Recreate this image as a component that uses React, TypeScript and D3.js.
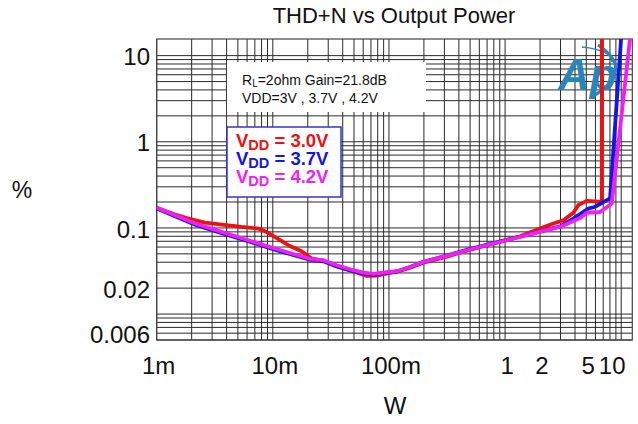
import React from 'react';
import * as d3 from 'd3';

// tick labels
const xTickValues = [0.001, 0.01, 0.1, 1, 2, 5, 10];
const xTickLabels = ['1m', '10m', '100m', '1', '2', '5', '10'];
const yTickValues = [10, 1, 0.1, 0.02, 0.006];
const yTickLabels = ['10', '1', '0.1', '0.02', '0.006'];

// VDD = 3.0V
const redW = [0.001, 0.00144, 0.00187, 0.0026, 0.00363, 0.0054, 0.0075, 0.00857, 0.0104, 0.0136, 0.0177, 0.0216, 0.0272, 0.0355, 0.0462, 0.0644, 0.0785, 0.0895, 0.117, 0.152, 0.198, 0.294, 0.468, 0.793, 1.346, 2.0, 2.61, 3.18, 3.87, 4.28, 5.06, 6.81, 6.81];
const redThd = [0.171, 0.143, 0.1286, 0.1155, 0.1095, 0.1027, 0.0984, 0.0916, 0.0786, 0.063, 0.0536, 0.0441, 0.0418, 0.0362, 0.0322, 0.0277, 0.028, 0.029, 0.031, 0.0345, 0.0395, 0.0452, 0.0545, 0.066, 0.08, 0.0984, 0.1125, 0.1228, 0.15, 0.185, 0.206, 0.2005, 20];

// VDD = 3.7V
const blueW = [0.001, 0.00144, 0.00214, 0.00363, 0.00615, 0.0104, 0.0155, 0.0216, 0.0272, 0.0355, 0.0462, 0.0602, 0.0734, 0.0895, 0.117, 0.152, 0.198, 0.294, 0.468, 0.793, 1.346, 2.14, 2.98, 3.87, 5.22, 5.9, 8.02, 10.1];
const blueThd = [0.168, 0.137, 0.109, 0.087, 0.07, 0.056, 0.0478, 0.0422, 0.041, 0.0358, 0.0322, 0.0295, 0.0285, 0.0298, 0.0312, 0.0352, 0.0405, 0.0465, 0.0558, 0.0665, 0.079, 0.093, 0.104, 0.1286, 0.168, 0.175, 0.22, 20];

// VDD = 4.2V
const magW = [0.001, 0.00144, 0.00214, 0.00363, 0.00615, 0.0104, 0.0155, 0.0216, 0.0272, 0.0355, 0.0462, 0.0602, 0.0734, 0.0895, 0.117, 0.152, 0.198, 0.294, 0.468, 0.793, 1.346, 2.14, 2.98, 3.87, 4.43, 5.06, 6.58, 8.3, 11.9];
const magThd = [0.171, 0.1405, 0.1125, 0.0899, 0.072, 0.0576, 0.0491, 0.0433, 0.0422, 0.0369, 0.0331, 0.0303, 0.0292, 0.0303, 0.0314, 0.0352, 0.0403, 0.0461, 0.0551, 0.0659, 0.0786, 0.0923, 0.1027, 0.1206, 0.13, 0.15, 0.153, 0.192, 15.6];

const seriesNames = ['3.0V', '3.7V', '4.2V'];
const seriesColors = ['#f01010', '#1414e6', '#f020f0'];

const font = 'Liberation Sans, Arial, sans-serif';

const App: React.FC = () => {
  const ref = React.useRef<SVGSVGElement>(null);

  React.useEffect(() => {
    const svg = d3.select(ref.current);
    svg.selectAll('*').remove();

    const left = 156.7, right = 632.3, top = 39, bottom = 340;
    const x = d3.scaleLog().domain([0.001, 12.46]).range([left, right]);
    const y = d3.scaleLog().domain([0.005, 15.6]).range([bottom, top]);

    svg.append('rect').attr('width', 638).attr('height', 424).attr('fill', '#fff');

    // grid
    const grid = svg.append('g').attr('stroke', '#2a2a2a').attr('stroke-width', 1);
    grid
      .selectAll('line.v')
      .data(x.ticks())
      .enter()
      .append('line')
      .attr('x1', (d: number) => x(d))
      .attr('x2', (d: number) => x(d))
      .attr('y1', top)
      .attr('y2', bottom);
    grid
      .selectAll('line.h')
      .data(y.ticks())
      .enter()
      .append('line')
      .attr('x1', left)
      .attr('x2', right)
      .attr('y1', (d: number) => y(d))
      .attr('y2', (d: number) => y(d));
    svg
      .append('rect')
      .attr('x', left)
      .attr('y', top)
      .attr('width', right - left)
      .attr('height', bottom - top)
      .attr('fill', 'none')
      .attr('stroke', '#444')
      .attr('stroke-width', 1.2);

    // title
    svg
      .append('text')
      .attr('x', 394)
      .attr('y', 23)
      .attr('text-anchor', 'middle')
      .attr('font-family', font)
      .attr('font-size', 22)
      .attr('fill', '#111')
      .text('THD+N vs Output Power');

    // y tick labels
    svg
      .selectAll('text.ylab')
      .data(yTickValues)
      .enter()
      .append('text')
      .attr('x', 150)
      .attr('y', (d: number) => y(d) + 1)
      .attr('dy', '0.36em')
      .attr('text-anchor', 'end')
      .attr('font-family', font)
      .attr('font-size', 24)
      .attr('fill', '#111')
      .text((_d: number, i: number) => yTickLabels[i]);

    // x tick labels
    svg
      .selectAll('text.xlab')
      .data(xTickValues)
      .enter()
      .append('text')
      .attr('x', (d: number) => x(d))
      .attr('dx', (_d: number, i: number) => (i === xTickValues.length - 1 ? -9 : 2))
      .attr('y', 374)
      .attr('text-anchor', 'middle')
      .attr('font-family', font)
      .attr('font-size', 24)
      .attr('fill', '#111')
      .text((_d: number, i: number) => xTickLabels[i]);

    svg
      .append('text')
      .attr('x', 22)
      .attr('y', 198)
      .attr('text-anchor', 'middle')
      .attr('font-family', font)
      .attr('font-size', 23)
      .attr('fill', '#111')
      .text('%');
    svg
      .append('text')
      .attr('x', 395)
      .attr('y', 414)
      .attr('text-anchor', 'middle')
      .attr('font-family', font)
      .attr('font-size', 24)
      .attr('fill', '#111')
      .text('W');

    // conditions note
    svg.append('rect').attr('x', 227).attr('y', 62).attr('width', 199).attr('height', 50).attr('fill', '#fff');
    const note1 = svg
      .append('text')
      .attr('x', 242)
      .attr('y', 85)
      .attr('font-family', font)
      .attr('font-size', 14)
      .attr('fill', '#111');
    note1.append('tspan').text('R');
    note1.append('tspan').attr('font-size', 10).attr('dy', 2).text('L');
    note1.append('tspan').attr('dy', -2).text('=2ohm Gain=21.8dB');
    svg
      .append('text')
      .attr('x', 242)
      .attr('y', 103)
      .attr('font-family', font)
      .attr('font-size', 14)
      .attr('fill', '#111')
      .text('VDD=3V , 3.7V , 4.2V');

    // legend
    svg
      .append('rect')
      .attr('x', 227)
      .attr('y', 127)
      .attr('width', 114)
      .attr('height', 70)
      .attr('fill', '#fff')
      .attr('stroke', '#3434d0')
      .attr('stroke-width', 1.5);
    seriesNames.forEach((name, i) => {
      const t = svg
        .append('text')
        .attr('x', 236)
        .attr('y', 146.5 + i * 18.3)
        .attr('font-family', font)
        .attr('font-weight', 'bold')
        .attr('font-size', 18.5)
        .attr('fill', seriesColors[i]);
      t.append('tspan').text('V');
      t.append('tspan').attr('font-size', 14.5).attr('dy', 3).text('DD');
      t.append('tspan').attr('dy', -3).text(` = ${name}`);
    });

    // AP logo
    const logo = svg.append('g').attr('fill', 'none').attr('stroke', '#2a86b8');
    logo.append('path').attr('d', 'M598,45 Q636,70 592,97').attr('stroke-width', 3);
    logo.append('path').attr('d', 'M582,47 Q612,50 612,62').attr('stroke-width', 1.5);
    svg
      .append('text')
      .attr('x', 558)
      .attr('y', 90)
      .attr('font-family', font)
      .attr('font-size', 44)
      .attr('font-weight', 'bold')
      .attr('font-style', 'italic')
      .attr('fill', '#2a86b8')
      .text('Ap');

    // curves
    svg
      .append('clipPath')
      .attr('id', 'plotclip')
      .append('rect')
      .attr('x', left)
      .attr('y', top)
      .attr('width', right - left)
      .attr('height', bottom - top);

    const line = d3
      .line<[number, number]>()
      .x((d: [number, number]) => x(d[0]))
      .y((d: [number, number]) => y(d[1]));

    const curves: [number, number][][] = [
      redW.map((w, i) => [w, redThd[i]] as [number, number]),
      blueW.map((w, i) => [w, blueThd[i]] as [number, number]),
      magW.map((w, i) => [w, magThd[i]] as [number, number])
    ];

    const cg = svg.append('g').attr('clip-path', 'url(#plotclip)');
    curves.forEach((pts, i) => {
      cg.append('path')
        .datum(pts)
        .attr('fill', 'none')
        .attr('stroke', seriesColors[i])
        .attr('stroke-width', 3.8)
        .attr('stroke-linejoin', 'round')
        .attr('d', line);
    });
  }, []);

  return (
    <svg
      ref={ref}
      width={638}
      height={424}
      style={{ position: 'absolute', left: 0, top: 0 }}
    />
  );
};

export default App;
